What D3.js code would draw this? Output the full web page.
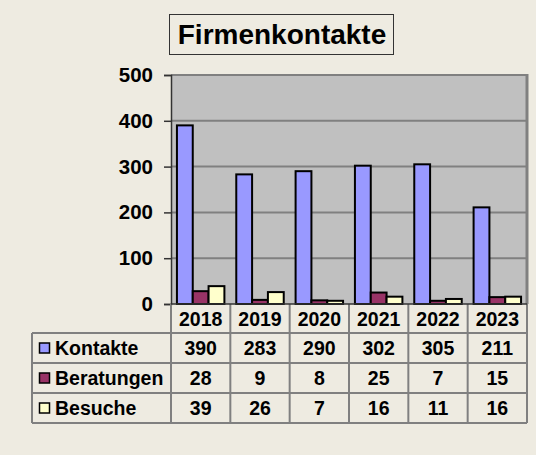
<!DOCTYPE html>
<html>
<head>
<meta charset="utf-8">
<script src="https://cdn.jsdelivr.net/npm/d3@7"></script>
<style>
  body { margin: 0; background: #eeebe1; }
  svg { display: block; font-family: "Liberation Sans", Arial, sans-serif; font-weight: bold; }
</style>
</head>
<body>
<svg id="chart" width="536" height="455"></svg>
<script>
const years = ["2018", "2019", "2020", "2021", "2022", "2023"];
const seriesNames = ["Kontakte", "Beratungen", "Besuche"];
const kontakte = [390, 283, 290, 302, 305, 211];
const beratungen = [28, 9, 8, 25, 7, 15];
const besuche = [39, 26, 7, 16, 11, 16];
const yTicks = [0, 100, 200, 300, 400, 500];

const colors = { Kontakte: "#9999ff", Beratungen: "#993366", Besuche: "#ffffcc" };
const values = { Kontakte: kontakte, Beratungen: beratungen, Besuche: besuche };

const svg = d3.select("#chart");
const plot = { left: 171, right: 527, top: 75, bottom: 304 };
const tableLeft = 32;
const headerH = 29;
const rowH = 30;
const grey = "#808080";

svg.append("rect").attr("width", 536).attr("height", 455).attr("fill", "#eeebe1");

// title
svg.append("rect")
  .attr("x", 169.5).attr("y", 14.5).attr("width", 224).attr("height", 40)
  .attr("fill", "#eeebe1").attr("stroke", "#333").attr("stroke-width", 1);
svg.append("text")
  .attr("x", 282).attr("y", 44)
  .attr("text-anchor", "middle").attr("font-size", 28)
  .text("Firmenkontakte");

const x0 = d3.scaleBand().domain(years).range([plot.left, plot.right]).padding(0);
const bw = x0.bandwidth();
const x1 = d3.scaleBand().domain(seriesNames).range([bw * 0.1, bw * 0.9]).padding(0);
const y = d3.scaleLinear().domain([0, 500]).range([plot.bottom, plot.top]);

// plot area
svg.append("rect")
  .attr("x", plot.left).attr("y", plot.top)
  .attr("width", plot.right - plot.left).attr("height", plot.bottom - plot.top)
  .attr("fill", "#c0c0c0");

svg.append("g")
  .selectAll("line")
  .data(yTicks.filter(d => d > 0))
  .join("line")
  .attr("x1", plot.left).attr("x2", plot.right)
  .attr("y1", d => y(d)).attr("y2", d => y(d))
  .attr("stroke", grey).attr("stroke-width", 2);

svg.append("line")
  .attr("x1", plot.right).attr("x2", plot.right)
  .attr("y1", plot.top - 1).attr("y2", plot.bottom)
  .attr("stroke", grey).attr("stroke-width", 3);

// bars
const groups = svg.append("g")
  .selectAll("g")
  .data(years)
  .join("g")
  .attr("transform", d => `translate(${x0(d)},0)`);

groups.selectAll("rect")
  .data((yr, i) => seriesNames.map(s => ({ s, v: values[s][i] })))
  .join("rect")
  .attr("x", d => x1(d.s))
  .attr("y", d => y(d.v))
  .attr("width", x1.bandwidth())
  .attr("height", d => y(0) - y(d.v))
  .attr("fill", d => colors[d.s])
  .attr("stroke", "#000")
  .attr("stroke-width", 2);

// y axis
const yAxis = svg.append("g")
  .attr("transform", `translate(${plot.left},0)`)
  .call(d3.axisLeft(y).tickValues(yTicks).tickSize(7).tickPadding(11).tickFormat(d3.format("d")));
yAxis.select(".domain").attr("stroke", "#333").attr("stroke-width", 1.5);
yAxis.selectAll(".tick line").attr("stroke", "#333").attr("stroke-width", 1.5);
yAxis.selectAll("text")
  .attr("font-size", 20.5).attr("font-weight", "bold")
  .attr("font-family", "Liberation Sans, Arial, sans-serif")
  .attr("fill", "#000");

// data table
const table = svg.append("g");
const tableTop = plot.bottom;
const rowTops = seriesNames.map((s, i) => tableTop + headerH + i * rowH);
const tableBottom = tableTop + headerH + seriesNames.length * rowH;

table.selectAll(".hdr")
  .data(years)
  .join("text")
  .attr("class", "hdr")
  .attr("x", d => x0(d) + bw / 2)
  .attr("y", tableTop + headerH / 2 + 7)
  .attr("text-anchor", "middle").attr("font-size", 19.5)
  .text(d => d);

seriesNames.forEach((s, i) => {
  const top = rowTops[i];
  table.append("rect")
    .attr("x", 39.5).attr("y", top + rowH / 2 - 5)
    .attr("width", 10).attr("height", 10)
    .attr("fill", colors[s]).attr("stroke", "#000").attr("stroke-width", 1.5);
  table.append("text")
    .attr("x", 55).attr("y", top + rowH / 2 + 7)
    .attr("font-size", 19.5)
    .text(s);
  table.selectAll(".v" + i)
    .data(values[s])
    .join("text")
    .attr("x", (d, j) => x0(years[j]) + bw / 2)
    .attr("y", top + rowH / 2 + 7)
    .attr("text-anchor", "middle").attr("font-size", 19.5)
    .text(d => d);
});

// table grid
const hLines = rowTops.concat([tableBottom]);
table.selectAll(".hl")
  .data(hLines)
  .join("line")
  .attr("x1", tableLeft).attr("x2", plot.right)
  .attr("y1", d => d).attr("y2", d => d)
  .attr("stroke", grey).attr("stroke-width", 2);

table.selectAll(".vl")
  .data(years.map(d => x0(d)).concat([plot.right]))
  .join("line")
  .attr("x1", d => d).attr("x2", d => d)
  .attr("y1", tableTop).attr("y2", tableBottom)
  .attr("stroke", grey).attr("stroke-width", 2);

table.append("line")
  .attr("x1", tableLeft).attr("x2", tableLeft)
  .attr("y1", rowTops[0]).attr("y2", tableBottom)
  .attr("stroke", grey).attr("stroke-width", 2);

// x axis baseline
svg.append("line")
  .attr("x1", plot.left).attr("x2", plot.right)
  .attr("y1", plot.bottom).attr("y2", plot.bottom)
  .attr("stroke", "#333").attr("stroke-width", 1.5);
</script>
</body>
</html>
